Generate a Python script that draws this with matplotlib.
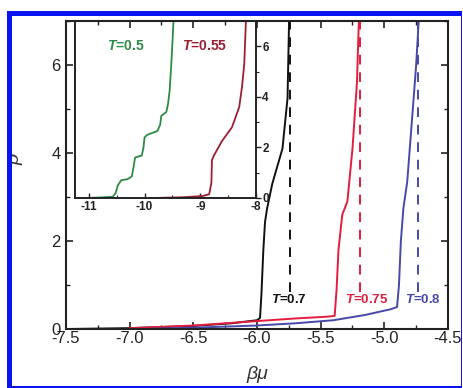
import matplotlib
matplotlib.use('Agg')
import matplotlib.pyplot as plt
from matplotlib.patches import Rectangle
from matplotlib.ticker import MultipleLocator

plt.rcParams['font.family'] = ['Liberation Sans', 'DejaVu Sans']
plt.rcParams['mathtext.fontset'] = 'custom'
plt.rcParams['mathtext.it'] = 'Liberation Sans:italic:bold'
plt.rcParams['mathtext.rm'] = 'Liberation Sans:bold'

# main panel, beta*mu vs rho
bm_07 = [-7.5, -7.0, -6.5, -6.2, -6.0, -5.976, -5.965, -5.95, -5.937, -5.92, -5.88, -5.84, -5.80, -5.76, -5.748]
rho_07 = [0.0, 0.02, 0.07, 0.13, 0.2, 0.25, 0.8, 1.8, 2.43, 2.75, 3.3, 3.7, 4.1, 5.25, 7.0]
bm_075 = [-7.0, -6.5, -6.0, -5.7, -5.45, -5.39, -5.375, -5.36, -5.33, -5.29, -5.25, -5.215, -5.20]
rho_075 = [0.02, 0.08, 0.18, 0.24, 0.28, 0.3, 0.9, 1.8, 2.6, 2.9, 4.1, 5.6, 7.0]
bm_08 = [-6.9, -6.5, -6.0, -5.7, -5.4, -5.15, -4.95, -4.90, -4.885, -4.87, -4.85, -4.82, -4.78, -4.75, -4.73]
rho_08 = [0.0, 0.03, 0.08, 0.13, 0.2, 0.32, 0.45, 0.5, 1.0, 2.0, 2.75, 3.35, 4.86, 6.0, 7.0]
dashed_bm = [-5.74, -5.19, -4.735]
dashed_rho = [0.85, 7.0]

# inset, low temperatures
bm_05 = [-11.1, -10.8, -10.57, -10.52, -10.48, -10.42, -10.3, -10.23, -10.2, -10.17, -10.05, -10.02,
         -10.0, -9.95, -9.77, -9.72, -9.7, -9.61, -9.58, -9.55, -9.52, -9.48]
rho_05 = [0.0, 0.02, 0.05, 0.2, 0.5, 0.7, 0.75, 0.85, 1.2, 1.6, 1.68, 2.0,
          2.4, 2.5, 2.65, 2.9, 3.25, 3.4, 3.7, 4.25, 5.3, 7.0]
bm_055 = [-9.86, -9.3, -8.95, -8.84, -8.8, -8.79, -8.75, -8.61, -8.43, -8.3, -8.25, -8.21, -8.18]
rho_055 = [0.0, 0.03, 0.08, 0.15, 0.6, 1.5, 1.7, 2.25, 2.8, 3.6, 4.4, 5.3, 7.0]

c_black = '#111111'
c_red = '#e31d3f'
c_blue = '#4848a8'
c_green = '#2e8b45'
c_dred = '#9c1f30'

fig = plt.figure(figsize=(4.64, 3.88), dpi=100)
fig.set_facecolor('white')

ax = fig.add_axes([0.1422, 0.152, 0.8233, 0.7938])
ax.plot(bm_07, rho_07, color=c_black, lw=1.4)
ax.plot(bm_075, rho_075, color=c_red, lw=1.4)
ax.plot(bm_08, rho_08, color=c_blue, lw=1.4)
for x, c in zip(dashed_bm, [c_black, c_red, c_blue]):
    ax.plot([x, x], dashed_rho, color=c, lw=1.4, ls=(0, (5, 4)))

ax.set_xlim(-7.5, -4.5)
ax.set_ylim(0, 7)
ax.xaxis.set_minor_locator(MultipleLocator(0.25))
ax.yaxis.set_minor_locator(MultipleLocator(1))
ax.set_xticks([-7.5, -7.0, -6.5, -6.0, -5.5, -5.0, -4.5])
ax.set_xticklabels(['-7.5', '-7.0', '-6.5', '-6.0', '-5.5', '-5.0', '-4.5'])
ax.set_yticks([0, 2, 4, 6])
ax.set_yticklabels(['0', '2', '4', '6'])
ax.tick_params(which='both', direction='in', top=True, right=True, labelsize=12, colors='#222222')
ax.tick_params(axis='x', which='both', pad=1.5)
ax.tick_params(axis='y', which='both', pad=4)
ax.tick_params(which='major', length=5, width=1.2)
ax.tick_params(which='minor', length=3, width=1.0)
for s in ax.spines.values():
    s.set_linewidth(1.5)
    s.set_color('#222222')

ax.set_xlabel('βμ', fontsize=14, style='italic', color='#333333')
ax.xaxis.set_label_coords(0.5, -0.12)
ax.set_ylabel('ρ', fontsize=14, style='italic', color='#333333')
ax.yaxis.set_label_coords(-0.11, 0.55)

ax.text(-5.89, 0.66, '$T$=0.7', color=c_black, fontsize=9.5, fontweight='bold', va='center')
ax.text(-5.31, 0.66, '$T$=0.75', color=c_red, fontsize=9.5, fontweight='bold', va='center')
ax.text(-4.84, 0.66, '$T$=0.8', color=c_blue, fontsize=9.5, fontweight='bold', va='center')

ins = fig.add_axes([0.1616, 0.4897, 0.390, 0.4562])
ins.patch.set_alpha(0)
ins.plot(bm_05, rho_05, color=c_green, lw=1.3)
ins.plot(bm_055, rho_055, color=c_dred, lw=1.3)
ins.set_xlim(-11.25, -8)
ins.set_ylim(0, 7)
ins.set_xticks([-11, -10, -9, -8])
ins.set_xticklabels(['-11', '-10', '-9', '-8'])
ins.xaxis.set_minor_locator(MultipleLocator(0.5))
ins.set_yticks([0, 2, 4, 6])
ins.set_yticklabels(['0', '2', '4', '6'])
ins.yaxis.set_minor_locator(MultipleLocator(1))
ins.yaxis.tick_right()
ins.tick_params(axis='x', which='both', direction='in', labelsize=8.5, pad=2)
ins.tick_params(axis='y', which='both', direction='out', labelsize=8.5, pad=1)
ins.tick_params(which='major', length=3.5, width=1.0, colors='#222222')
ins.tick_params(which='minor', length=2, width=0.8, colors='#222222')
for lab in ins.get_xticklabels() + ins.get_yticklabels():
    lab.set_fontweight('bold')
for s in ins.spines.values():
    s.set_linewidth(1.4)
    s.set_color('#222222')
ins.text(-10.33, 6.0, '$T$=0.5', color=c_green, fontsize=10, fontweight='bold', ha='center', va='center')
ins.text(-8.93, 6.0, '$T$=0.55', color=c_dred, fontsize=10, fontweight='bold', ha='center', va='center')

# blue frame around the figure
W, H = 464.0, 388.0
frame = '#0a14f0'
for x0, y0, w, h in [(7, 11, 455, 4.5), (7, 11, 5, 377), (461, 11, 1.5, 377), (7, 386, 455, 1.5)]:
    fig.add_artist(Rectangle((x0 / W, 1 - (y0 + h) / H), w / W, h / H,
                             transform=fig.transFigure, color=frame, lw=0))

plt.savefig('out.png', dpi=100, facecolor=fig.get_facecolor())
plt.close()
